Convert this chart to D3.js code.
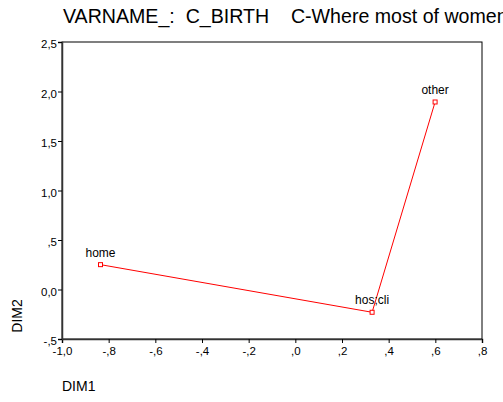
<!DOCTYPE html>
<html>
<head>
<meta charset="utf-8">
<script src="https://cdn.jsdelivr.net/npm/d3@7"></script>
<style>
  html, body { margin: 0; padding: 0; background: #fff; }
  svg { display: block; font-family: Arial, "Liberation Sans", sans-serif; }
  .title { white-space: pre; }
</style>
</head>
<body>
<script>
// Category coordinates on the first two dimensions
const categories = ["home", "hos;cli", "other"];
const dim1 = [-0.835, 0.329, 0.599];
const dim2 = [0.251, -0.230, 1.894];

const xTicks = [-1.0, -0.8, -0.6, -0.4, -0.2, 0.0, 0.2, 0.4, 0.6, 0.8];
const xTickLabels = ["-1,0", "-,8", "-,6", "-,4", "-,2", ",0", ",2", ",4", ",6", ",8"];
const yTicks = [-0.5, 0.0, 0.5, 1.0, 1.5, 2.0, 2.5];
const yTickLabels = ["-,5", "0,0", ",5", "1,0", "1,5", "2,0", "2,5"];

const titleText = "VARNAME_:  C_BIRTH    C-Where most of women";

const W = 503, H = 402;
const plot = { left: 62, right: 482, top: 42, bottom: 339 };

const svg = d3.select("body").append("svg").attr("width", W).attr("height", H);

const x = d3.scaleLinear().domain([-1.0, 0.8]).range([plot.left, plot.right]);
const y = d3.scaleLinear().domain([-0.5, 2.5]).range([plot.bottom, plot.top]);

// Title
svg.append("text")
  .attr("class", "title")
  .attr("x", 63).attr("y", 23)
  .attr("font-size", 19.6).attr("fill", "#000")
  .text(titleText);

// Plot frame
svg.append("rect")
  .attr("x", plot.left).attr("y", plot.top)
  .attr("width", plot.right - plot.left).attr("height", plot.bottom - plot.top)
  .attr("fill", "none").attr("stroke", "#000").attr("stroke-width", 1);

// Axes
const xAxis = d3.axisBottom(x).tickValues(xTicks)
  .tickFormat((d, i) => xTickLabels[i]).tickSize(4).tickPadding(4);
const yAxis = d3.axisLeft(y).tickValues(yTicks)
  .tickFormat((d, i) => yTickLabels[i]).tickSize(4).tickPadding(1);

const gx = svg.append("g").attr("transform", `translate(0,${plot.bottom})`).call(xAxis);
const gy = svg.append("g").attr("transform", `translate(${plot.left},0)`).call(yAxis);
[gx, gy].forEach(g => {
  g.selectAll("text").attr("font-size", 11.5).attr("fill", "#000")
    .attr("font-family", "Arial, 'Liberation Sans', sans-serif");
  g.selectAll("line").attr("stroke", "#000");
  g.select(".domain").attr("stroke", "#333").attr("stroke-width", 1.5);
});
gy.selectAll("text").attr("dy", "0.5em");

// Axis titles
svg.append("text")
  .attr("x", plot.left).attr("y", 391)
  .attr("font-size", 14).attr("fill", "#000")
  .text("DIM1");
svg.append("text")
  .attr("transform", `translate(22,316) rotate(-90)`)
  .attr("text-anchor", "middle")
  .attr("font-size", 14).attr("fill", "#000")
  .text("DIM2");

// Connecting line and category markers
const pts = categories.map((c, i) => ({ name: c, x: dim1[i], y: dim2[i] }));
svg.append("path")
  .datum(pts)
  .attr("fill", "none").attr("stroke", "#ff0000").attr("stroke-width", 1)
  .attr("d", d3.line().x(d => x(d.x)).y(d => y(d.y)));

svg.selectAll("rect.pt").data(pts).enter().append("rect")
  .attr("class", "pt")
  .attr("x", d => x(d.x) - 2).attr("y", d => y(d.y) - 2)
  .attr("width", 4).attr("height", 4)
  .attr("fill", "#fff").attr("stroke", "#ff0000").attr("stroke-width", 1);

svg.selectAll("text.lbl").data(pts).enter().append("text")
  .attr("class", "lbl")
  .attr("x", d => x(d.x)).attr("y", d => y(d.y) - 8)
  .attr("text-anchor", "middle")
  .attr("font-size", 12).attr("fill", "#000")
  .text(d => d.name);
</script>
</body>
</html>
